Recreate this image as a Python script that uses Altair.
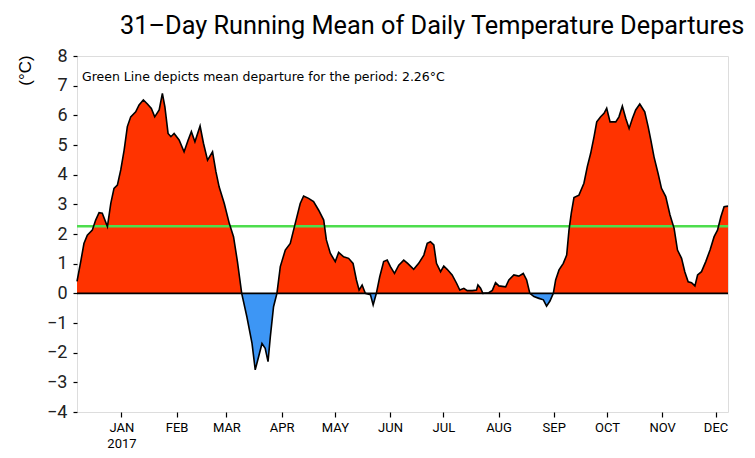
import altair as alt
import pandas as pd

# Day index: 0 = left edge of the plot (about 21 Dec 2016), 366 = right edge
days = [0, 2.1, 3.9, 5.8, 8.6, 10.5, 12.4, 14.2, 17.1, 19.0, 20.8, 22.7, 24.6, 26.5, 28.3,
        30.2, 33.0, 34.9, 37.3, 39.6, 41.8, 43.7, 46.2, 48.0, 49.4, 51.2, 52.8, 54.6, 57.4,
        60.2, 62.5, 64.3, 66.3, 69.2, 71.1, 73.4, 76.2, 78.1, 79.9, 82.8, 85.6, 88.0, 90.2,
        92.6, 95.5, 98.4, 100.2, 102.1, 104.0, 105.8, 107.4, 108.7, 110.5, 112.4, 114.3,
        117.1, 119.9, 122.7, 125.5, 127.4, 130.2, 133.0, 135.8, 138.7, 140.2, 142.4, 145.2,
        147.1, 149.9, 152.7, 155.2, 157.1, 158.6, 160.3, 162.1, 165.0, 166.5, 168.3, 170.2,
        172.4, 174.4, 176.2, 178.5, 180.9, 183.7, 185.9, 189.3, 192.1, 195.0, 196.9, 198.7,
        200.6, 202.1, 204.4, 206.2, 208.1, 210.9, 213.4, 215.2, 217.5, 219.4, 222.2, 224.6,
        225.4, 226.9, 228.2, 231.5, 233.5, 235.3, 237.2, 241.0, 242.8, 245.6, 248.4, 250.9,
        252.8, 254.6, 256.9, 259.7, 262.2, 264.0, 265.9, 267.8, 269.1, 271.0, 273.4, 275.3,
        276.6, 277.9, 279.4, 282.2, 285.0, 286.9, 288.8, 290.7, 292.2, 294.4, 296.3, 297.8,
        299.7, 302.9, 304.7, 306.6, 308.5, 310.4, 312.3, 314.1, 316.4, 319.2, 321.1, 322.6,
        324.4, 326.7, 328.6, 331.0, 333.4, 335.7, 337.6, 339.9, 341.7, 343.6, 345.5, 347.4,
        348.9, 351.1, 353.5, 355.9, 358.2, 360.1, 362.0, 363.8, 366.0]
departures = [0.40, 1.07, 1.68, 1.96, 2.13, 2.47, 2.72, 2.70, 2.25, 3.03, 3.54, 3.65, 4.16, 4.83, 5.62,
              5.95, 6.12, 6.35, 6.52, 6.38, 6.23, 5.95, 6.18, 6.74, 6.29, 5.39, 5.28, 5.39, 5.17,
              4.77, 5.17, 5.45, 5.11, 5.64, 5.06, 4.49, 4.77, 4.10, 3.59, 3.03, 2.36, 1.91, 1.07,
              0.00, -0.79, -1.69, -2.58, -2.14, -1.69, -1.85, -2.30, -1.46, -0.45, 0.00, 0.90,
              1.46, 1.68, 2.36, 3.03, 3.28, 3.20, 3.09, 2.81, 2.47, 1.80, 1.35, 1.07,
              1.38, 1.23, 1.18, 1.01, 0.45, 0.11, 0.28, 0.00, -0.05, -0.39, 0.00, 0.56,
              1.07, 1.12, 0.90, 0.67, 0.95, 1.12, 1.01, 0.81, 1.01, 1.29, 1.69, 1.74,
              1.63, 1.01, 0.73, 0.92, 0.81, 0.62, 0.34, 0.11, 0.17, 0.09, 0.09, 0.11,
              0.28, 0.17, 0.00, 0.02, 0.10, 0.36, 0.25, 0.22, 0.45, 0.62, 0.58, 0.67,
              0.45, 0.00, -0.11, -0.17, -0.22, -0.43, -0.26, 0.00, 0.45, 0.79, 1.01, 1.29,
              2.13, 2.70, 3.23, 3.31, 3.71, 4.27, 4.72, 5.28, 5.78, 5.95, 6.07, 6.24,
              5.78, 5.78, 5.95, 6.31, 5.90, 5.56, 5.90, 6.18, 6.38, 6.12, 5.62, 5.17,
              4.60, 4.04, 3.54, 3.26, 2.64, 2.19, 1.46, 1.18, 0.73, 0.39, 0.36, 0.25,
              0.62, 0.73, 1.07, 1.46, 1.91, 2.13, 2.58, 2.92, 2.94]

tick_days = [25, 56, 84, 115, 145, 176, 206, 237, 268, 298, 329, 359]
tick_labels = ["JAN", "FEB", "MAR", "APR", "MAY", "JUN", "JUL", "AUG", "SEP", "OCT", "NOV", "DEC"]
year_label = "2017"
y_ticks = [-4, -3, -2, -1, 0, 1, 2, 3, 4, 5, 6, 7, 8]
mean_departure = 2.26

title_text = "31\u2013Day Running Mean of Daily Temperature Departures"
note_text = f"Green Line depicts mean departure for the period: {mean_departure}\u00b0C"

RED = "#ff3300"
BLUE = "#3d96f5"
GREEN = "#4ddd4d"
FONT = "Roboto"

df = pd.DataFrame({"day": days, "dep": departures})

labels_js = "[" + ",".join(f"'{l}'" for l in tick_labels) + "]"
days_js = "[" + ",".join(str(d) for d in tick_days) + "]"
label_expr = (f"datum.value == {tick_days[0]} ? ['{tick_labels[0]}', '{year_label}'] : "
              f"{labels_js}[indexof({days_js}, datum.value)]")

x_enc = alt.X("day:Q",
              scale=alt.Scale(domain=[0, 366], nice=False, zero=False),
              axis=alt.Axis(values=tick_days, labelExpr=label_expr, title=None, grid=False,
                            domain=False, tickSize=5, tickColor="black", tickWidth=1.2,
                            labelFont=FONT, labelFontSize=13, labelColor="black",
                            labelPadding=4, labelLineHeight=16, labelFlush=False,
                            labelOverlap=False))

y_scale = alt.Scale(domain=[-4, 8], nice=False, zero=False)
y_axis = alt.Axis(values=y_ticks, tickCount=13, title="(\u00b0C)", grid=False, domain=False,
                  tickSize=4, tickColor="black", tickWidth=1.2, labelFont=FONT,
                  labelFontSize=18, labelColor="#222", labelPadding=6, labelFlush=False,
                  labelOverlap=False,
                  titleFont="Liberation Sans", titleFontSize=17, titleFontWeight="normal",
                  titleColor="black", titleAngle=270, titleX=-52, titleY=14,
                  titleAlign="center", titleBaseline="middle")

base = alt.Chart(df)

pos_area = base.transform_calculate(pos="max(datum.dep, 0)").mark_area(
    color=RED, opacity=1).encode(
    x=x_enc, y=alt.Y("pos:Q", scale=y_scale, axis=y_axis), y2=alt.datum(0))

neg_area = base.transform_calculate(neg="min(datum.dep, 0)").mark_area(
    color=BLUE, opacity=1).encode(
    x=x_enc, y=alt.Y("neg:Q", scale=y_scale, axis=y_axis), y2=alt.datum(0))

mean_rule = alt.Chart().mark_rule(color=GREEN, strokeWidth=2.5).encode(
    y=alt.Y(datum=mean_departure, scale=y_scale, axis=y_axis))

outline = base.mark_line(color="black", strokeWidth=1.6).encode(
    x=x_enc, y=alt.Y("dep:Q", scale=y_scale, axis=y_axis))

zero_rule = alt.Chart().mark_rule(color="black", strokeWidth=1.6).encode(
    y=alt.Y(datum=0, scale=y_scale, axis=y_axis))

note = alt.Chart(pd.DataFrame({"t": [note_text]})).mark_text(
    align="left", baseline="middle", font="DejaVu Sans", fontSize=12.5, color="black").encode(
    text="t:N", x=alt.value(5), y=alt.value(21))

chart = alt.layer(pos_area, neg_area, mean_rule, outline, zero_rule, note).properties(
    width=651, height=356,
    title=alt.TitleParams(text=title_text, anchor="start", frame="group", dx=43, offset=8,
                          font=FONT, fontSize=25.3, fontWeight="normal", color="black"),
    autosize=alt.AutoSizeParams(type="none"),
    padding={"left": 69, "top": 48, "right": 19, "bottom": 38},
).configure_view(stroke="#333", strokeWidth=1.5).configure(background="white")

chart.save("out.html", embed_options={"renderer": "svg", "actions": False})
